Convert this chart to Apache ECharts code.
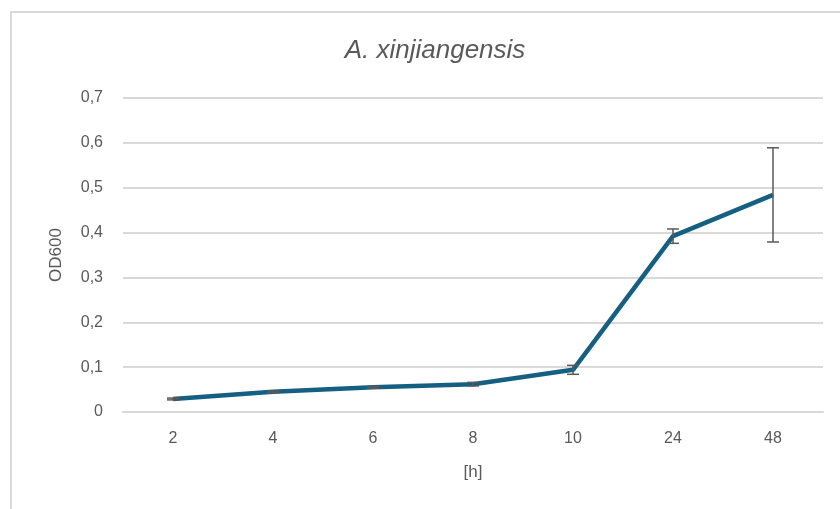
<!DOCTYPE html>
<html><head><meta charset="utf-8">
<script src="https://cdn.jsdelivr.net/npm/echarts@6/dist/echarts.min.js"></script>
<style>html,body{margin:0;padding:0;background:#fff}#c{width:840px;height:509px}</style>
</head><body><div id="c"></div>
<script>
var categories = ['2','4','6','8','10','24','48'];
var od600 = [0.029, 0.045, 0.055, 0.062, 0.094, 0.392, 0.484];
var errors = [0.002, 0.002, 0.002, 0.004, 0.010, 0.016, 0.105];
var yTicks = [0, 0.1, 0.2, 0.3, 0.4, 0.5, 0.6, 0.7];

var chart = echarts.init(document.getElementById('c'));
var errData = categories.map(function(c, i){ return [i, od600[i] - errors[i], od600[i] + errors[i]]; });
var font = '"Liberation Sans", Arial, sans-serif';
chart.setOption({
  animation: false,
  backgroundColor: '#fff',
  graphic: [{type:'polyline', shape:{points:[[11,509],[11,12],[840,12]]}, style:{stroke:'#d9d9d9', lineWidth:2, fill:null}, silent:true}],
  title: {text:'A. xinjiangensis', left:430, top:33, textAlign:'center',
    textStyle:{fontFamily:font, fontStyle:'italic', fontWeight:'normal', fontSize:26, color:'#595959'}},
  grid: {left:123, right:17, top:98, bottom:97},
  xAxis: {type:'category', data:categories, name:'[h]', nameLocation:'middle', nameGap:52,
    nameTextStyle:{fontFamily:font, fontSize:17, color:'#595959'},
    axisLine:{lineStyle:{color:'#d9d9d9', width:2}}, axisTick:{show:false},
    axisLabel:{fontFamily:font, fontSize:16, color:'#595959', margin:19}},
  yAxis: {type:'value', min:0, max:0.7, interval:0.1, name:'OD600', nameLocation:'middle', nameGap:58,
    nameTextStyle:{fontFamily:font, fontSize:17, color:'#595959'},
    axisLine:{show:false}, axisTick:{show:false},
    splitLine:{lineStyle:{color:'#d9d9d9', width:2}},
    axisLabel:{fontFamily:font, fontSize:16, color:'#595959', margin:20,
      formatter:function(v){ return v === 0 ? '0' : v.toFixed(1).replace('.', ','); }}},
  series: [
    {type:'line', data:od600, symbol:'none', lineStyle:{color:'#156082', width:4.5}, z:3},
    {type:'custom', data:errData, z:4,
      renderItem:function(params, api){
        var lo = api.coord([api.value(0), api.value(1)]);
        var hi = api.coord([api.value(0), api.value(2)]);
        var w = 6;
        var st = {stroke:'#595959', lineWidth:1.5};
        return {type:'group', children:[
          {type:'line', shape:{x1:lo[0], y1:lo[1], x2:hi[0], y2:hi[1]}, style:st},
          {type:'line', shape:{x1:lo[0]-w, y1:lo[1], x2:lo[0]+w, y2:lo[1]}, style:st},
          {type:'line', shape:{x1:hi[0]-w, y1:hi[1], x2:hi[0]+w, y2:hi[1]}, style:st}
        ]};
      }}
  ]
});
</script></body></html>
